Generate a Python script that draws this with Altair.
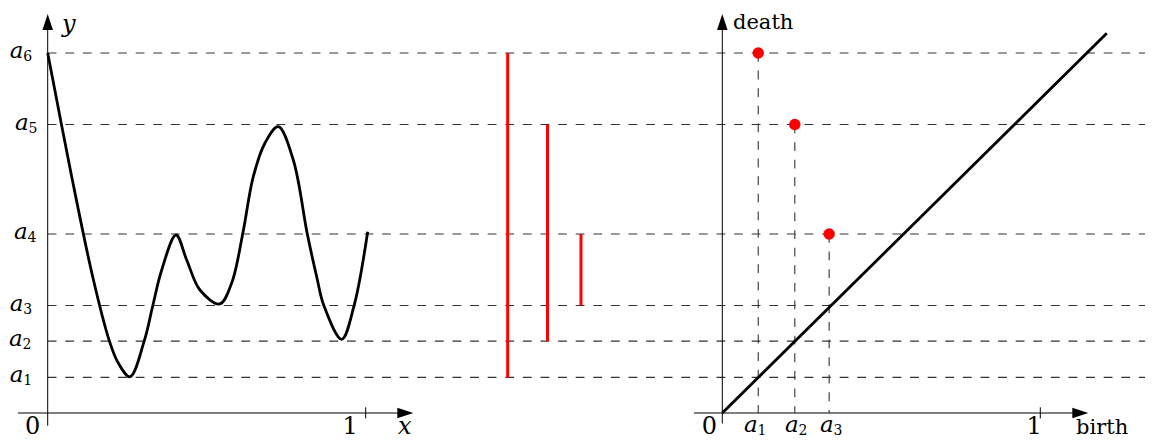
import altair as alt
import pandas as pd

# ---------------- data (in drawing units; 1 unit = tick "1") ----------------
level_sub = ["1", "2", "3", "4", "5", "6"]
levels = [0.112, 0.226, 0.338, 0.563, 0.907, 1.132]           # a1..a6
level_label_x = [-0.119, -0.122, -0.119, -0.106, -0.103, -0.119]

curve_x = [0.0, 0.0755, 0.1415, 0.1937, 0.222, 0.2588,
           0.3038, 0.3302, 0.3585, 0.4035, 0.4371, 0.4789, 0.5409, 0.5786,
           0.6132, 0.6465, 0.6833, 0.7252, 0.7723, 0.8164, 0.8459,
           0.8689, 0.9245, 0.9632, 1.0063]
curve_y = [1.132, 0.743, 0.4286, 0.2274, 0.157, 0.114,
           0.2274, 0.3365, 0.4497, 0.5597, 0.4811, 0.3868, 0.3428, 0.4088,
           0.5629, 0.7431, 0.8491, 0.9003, 0.7956, 0.5629, 0.4286,
           0.3365, 0.2318, 0.3365, 0.5701]

# barcode
bar_x = [1.4465, 1.5717, 1.677]
bar_lo = [0.112, 0.226, 0.338]
bar_hi = [1.132, 0.907, 0.563]

# persistence diagram (relative to its own origin)
pd_sub = ["1", "2", "3"]
pd_birth = [0.113, 0.228, 0.336]
pd_death = [1.132, 0.907, 0.563]
pd_label_x = [0.068, 0.197, 0.307]
diag_x = [0.0, 1.209]
diag_y = [0.0, 1.194]

OX2 = 2.1214          # origin of the right-hand diagram
PX = 318.0            # pixels per unit
W, H = 1137, 432
XMIN = -(47.7 - 8) / PX
XMAX = XMIN + W / PX
YMAX = (413 - 8) / PX
YMIN = YMAX - H / PX

xs = alt.Scale(domain=[XMIN, XMAX], nice=False, zero=False)
ys = alt.Scale(domain=[YMIN, YMAX], nice=False, zero=False)


def X(f):
    return alt.X(f, type="quantitative", scale=xs, axis=None)


def Y(f):
    return alt.Y(f, type="quantitative", scale=ys, axis=None)


FONT = "DejaVu Serif"

# ---------------- tables ----------------
lev_df = pd.DataFrame({"y": levels, "x": [0.0] * 6, "x2": [XMAX] * 6,
                       "lx": level_label_x, "sub": level_sub, "a": ["a"] * 6})
curve_df = pd.DataFrame({"x": curve_x, "y": curve_y})
bar_df = pd.DataFrame({"x": bar_x, "lo": bar_lo, "hi": bar_hi})
pdg_df = pd.DataFrame({"x": [b + OX2 for b in pd_birth], "y": pd_death,
                       "y0": [0.0] * 3, "lx": [v + OX2 for v in pd_label_x],
                       "ly": [-0.0597] * 3, "sub": pd_sub, "a": ["a"] * 3})
diag_df = pd.DataFrame({"x": [v + OX2 for v in diag_x], "y": diag_y})

axes_h = pd.DataFrame({"x": [-0.0934, OX2 - 0.089], "x2": [1.12, OX2 + 1.12], "y": [0.0, 0.0]})
axes_v = pd.DataFrame({"x": [0.0, OX2], "y": [-0.04, -0.033], "y2": [1.215, 1.215]})
ticks = pd.DataFrame({"x": [1.0, OX2 + 1.0], "y": [-0.017, -0.017], "y2": [0.018, 0.018]})
arrow_up = pd.DataFrame({"x": [0.0, OX2], "y": [1.2296, 1.2296]})
arrow_right = pd.DataFrame({"x": [1.1245, OX2 + 1.1258], "y": [0.0, 0.0]})

math_df = pd.DataFrame({"x": [0.045, 1.1016], "y": [1.198, -0.066], "t": ["y", "x"]})
num_df = pd.DataFrame({"x": [-0.0714, 0.9267, OX2 - 0.0644, OX2 + 0.9569],
                       "y": [-0.066, -0.066, -0.066, -0.066],
                       "t": ["0", "1", "0", "1"]})
word_df = pd.DataFrame({"x": [OX2 + 0.0336, OX2 + 1.1123], "y": [1.207, -0.067],
                        "t": ["death", "birth"]})

DASH = [8.8, 8.8]
UP = "M0,-1L0.66,1L-0.66,1Z"
RIGHT = "M1,0L-1,0.66L-1,-0.66Z"

layers = [
    # dashed levels
    alt.Chart(lev_df).mark_rule(color="#333", strokeWidth=1.1, strokeDash=DASH)
    .encode(x=X("x"), x2="x2", y=Y("y")),
    # vertical dashed lines in the diagram
    alt.Chart(pdg_df).mark_rule(color="#333", strokeWidth=1.1, strokeDash=DASH)
    .encode(x=X("x"), y=Y("y"), y2="y0"),
    # axes
    alt.Chart(axes_h).mark_rule(color="black", strokeWidth=1)
    .encode(x=X("x"), x2="x2", y=Y("y")),
    alt.Chart(axes_v).mark_rule(color="black", strokeWidth=1)
    .encode(x=X("x"), y=Y("y"), y2="y2"),
    alt.Chart(ticks).mark_rule(color="black", strokeWidth=1)
    .encode(x=X("x"), y=Y("y"), y2="y2"),
    alt.Chart(arrow_up).mark_point(shape=UP, size=256, filled=True, color="black",
                                   opacity=1, strokeWidth=0)
    .encode(x=X("x"), y=Y("y")),
    alt.Chart(arrow_right).mark_point(shape=RIGHT, size=256, filled=True, color="black",
                                      opacity=1, strokeWidth=0)
    .encode(x=X("x"), y=Y("y")),
    # function graph
    alt.Chart(curve_df).mark_line(color="black", strokeWidth=2.8, interpolate="catmull-rom")
    .encode(x=X("x"), y=Y("y")),
    # barcode
    alt.Chart(bar_df).mark_rule(color="#ff0000", strokeWidth=3)
    .encode(x=X("x"), y=Y("lo"), y2="hi"),
    # diagonal
    alt.Chart(diag_df).mark_line(color="black", strokeWidth=2.8)
    .encode(x=X("x"), y=Y("y")),
    # diagram points
    alt.Chart(pdg_df).mark_circle(color="#ff0000", size=130, opacity=1)
    .encode(x=X("x"), y=Y("y")),
    # level labels a_i
    alt.Chart(lev_df).mark_text(font=FONT, fontStyle="italic", fontSize=23, align="left",
                                baseline="alphabetic", dy=5, color="black")
    .encode(x=X("lx"), y=Y("y"), text="a"),
    alt.Chart(lev_df).mark_text(font=FONT, fontSize=14, align="left",
                                baseline="alphabetic", dx=13.5, dy=8, color="black")
    .encode(x=X("lx"), y=Y("y"), text="sub"),
    # birth labels a_i
    alt.Chart(pdg_df).mark_text(font=FONT, fontStyle="italic", fontSize=23, align="left",
                                baseline="alphabetic", color="black")
    .encode(x=X("lx"), y=Y("ly"), text="a"),
    alt.Chart(pdg_df).mark_text(font=FONT, fontSize=14, align="left",
                                baseline="alphabetic", dx=13.5, dy=3, color="black")
    .encode(x=X("lx"), y=Y("ly"), text="sub"),
    # x, y
    alt.Chart(math_df).mark_text(font=FONT, fontStyle="italic", fontSize=24, align="left",
                                 baseline="alphabetic", color="black")
    .encode(x=X("x"), y=Y("y"), text="t"),
    # 0, 1
    alt.Chart(num_df).mark_text(font=FONT, fontSize=24, align="left",
                                baseline="alphabetic", color="black")
    .encode(x=X("x"), y=Y("y"), text="t"),
    # death, birth
    alt.Chart(word_df).mark_text(font=FONT, fontSize=21, align="left",
                                 baseline="alphabetic", color="black")
    .encode(x=X("x"), y=Y("y"), text="t"),
]

chart = alt.layer(*layers).properties(
    width=W, height=H, padding=0,
    autosize=alt.AutoSizeParams(type="none"),
    background="white",
).configure_view(stroke=None)

chart.save("out.html", embed_options={"renderer": "svg", "actions": False})
